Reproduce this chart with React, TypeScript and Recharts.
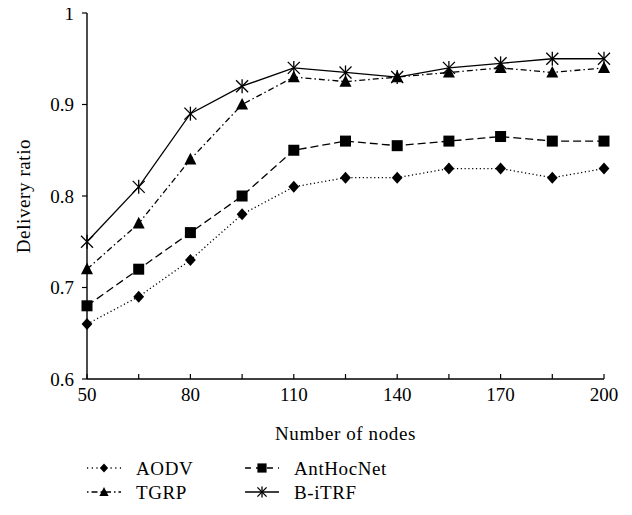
import React from 'react';
import { LineChart, Line, XAxis, YAxis } from 'recharts';

const nodes = [50, 65, 80, 95, 110, 125, 140, 155, 170, 185, 200];
const aodv = [0.66, 0.69, 0.73, 0.78, 0.81, 0.82, 0.82, 0.83, 0.83, 0.82, 0.83];
const tgrp = [0.72, 0.77, 0.84, 0.9, 0.93, 0.925, 0.93, 0.935, 0.94, 0.935, 0.94];
const antHocNet = [0.68, 0.72, 0.76, 0.8, 0.85, 0.86, 0.855, 0.86, 0.865, 0.86, 0.86];
const biTRF = [0.75, 0.81, 0.89, 0.92, 0.94, 0.935, 0.93, 0.94, 0.945, 0.95, 0.95];
const xTicks = [50, 65, 80, 95, 110, 125, 140, 155, 170, 185, 200];
const xLabeled = [50, 80, 110, 140, 170, 200];
const yTicks = [0.6, 0.7, 0.8, 0.9, 1];

const data = nodes.map((n, i) => ({
  n,
  aodv: aodv[i],
  tgrp: tgrp[i],
  ant: antHocNet[i],
  bi: biTRF[i],
}));

const FONT = '"Liberation Serif", "Times New Roman", serif';
const FS = 19;

const Diamond = ({ cx, cy, r = 6 }: any) =>
  cx == null ? null : (
    <path d={`M${cx},${cy - r} L${cx + r * 0.9},${cy} L${cx},${cy + r} L${cx - r * 0.9},${cy} Z`} fill="#000" />
  );
const Square = ({ cx, cy, r = 5.5 }: any) =>
  cx == null ? null : <rect x={cx - r} y={cy - r} width={2 * r} height={2 * r} fill="#000" />;
const Triangle = ({ cx, cy, r = 6 }: any) =>
  cx == null ? null : (
    <path d={`M${cx},${cy - r * 1.1} L${cx + r},${cy + r * 0.85} L${cx - r},${cy + r * 0.85} Z`} fill="#000" />
  );
const Star = ({ cx, cy, r = 6 }: any) =>
  cx == null ? null : (
    <g stroke="#000" strokeWidth={1.3}>
      <line x1={cx - r} y1={cy - r} x2={cx + r} y2={cy + r} />
      <line x1={cx - r} y1={cy + r} x2={cx + r} y2={cy - r} />
      <line x1={cx} y1={cy - r - 1} x2={cx} y2={cy + r + 1} />
    </g>
  );

const series = [
  { key: 'aodv', name: 'AODV', dash: '1.2 2.6', legendDash: '1.2 3.5', Dot: Diamond },
  { key: 'tgrp', name: 'TGRP', dash: '6 3 1.5 3', legendDash: '1.5 3 6 3', Dot: Triangle },
  { key: 'ant', name: 'AntHocNet', dash: '8 4', legendDash: '6 5', Dot: Square },
  { key: 'bi', name: 'B-iTRF', dash: undefined as any, legendDash: undefined as any, Dot: Star },
];

const legendLayout = [
  { s: 0, x: 87, y: 468 },
  { s: 2, x: 245, y: 468 },
  { s: 1, x: 87, y: 492 },
  { s: 3, x: 245, y: 492 },
];

const Legend2 = () => (
  <svg width={632} height={515} style={{ position: 'absolute', left: 0, top: 0, pointerEvents: 'none' }}>
    {legendLayout.map(({ s, x, y }) => {
      const ser = series[s];
      const D = ser.Dot;
      return (
        <g key={ser.key}>
          <line
            x1={x}
            y1={y}
            x2={x + 34}
            y2={y}
            stroke="#000"
            strokeWidth={1.3}
            strokeDasharray={ser.legendDash}
          />
          <D cx={x + 17} cy={y} r={4.6} />
          <text
            x={x + 49}
            y={y}
            dominantBaseline="central"
            fontFamily={FONT}
            fontSize={FS}
            letterSpacing={0.6}
            fill="#000"
          >
            {ser.name}
          </text>
        </g>
      );
    })}
  </svg>
);

const YLabel = ({ viewBox }: any) => {
  const cy = viewBox.y + viewBox.height / 2;
  const x = 23;
  return (
    <text
      x={x}
      y={cy}
      transform={`rotate(-90, ${x}, ${cy})`}
      textAnchor="middle"
      dominantBaseline="central"
      fontFamily={FONT}
      fontSize={FS}
      letterSpacing={0.6}
      fill="#000"
    >
      Delivery ratio
    </text>
  );
};

const XLabel = ({ viewBox }: any) => {
  const cx = viewBox.x + viewBox.width / 2;
  const y = viewBox.y + 54;
  return (
    <text
      x={cx}
      y={y}
      textAnchor="middle"
      dominantBaseline="central"
      fontFamily={FONT}
      fontSize={FS}
      letterSpacing={0.6}
      fill="#000"
    >
      Number of nodes
    </text>
  );
};

export default function App() {
  return (
    <div style={{ width: 632, height: 515, position: 'relative', margin: -8 }}>
      <LineChart width={632} height={515} data={data} margin={{ top: 13, right: 28, left: 0, bottom: 76 }}>
        <XAxis
          dataKey="n"
          type="number"
          domain={[50, 200]}
          ticks={xTicks}
          tickFormatter={(v: number) => (xLabeled.includes(v) ? String(v) : '')}
          tickSize={-5}
          tickMargin={14}
          height={60}
          stroke="#000"
          tick={{ fill: '#000', fontFamily: FONT, fontSize: FS }}
          axisLine={{ stroke: '#000', strokeWidth: 1.4 }}
          tickLine={{ stroke: '#000', strokeWidth: 1.2 }}
          label={<XLabel />}
          interval={0}
        />
        <XAxis
          xAxisId="top"
          orientation="top"
          dataKey="n"
          type="number"
          domain={[50, 200]}
          height={0}
          tick={false}
          tickLine={false}
          axisLine={{ stroke: '#000', strokeWidth: 1.3 }}
        />
        <YAxis
          type="number"
          domain={[0.6, 1]}
          ticks={yTicks}
          tickFormatter={(v: number) => (v === 1 ? '1' : v.toFixed(1))}
          width={87}
          tickSize={5}
          tickMargin={8}
          tick={{ fill: '#000', fontFamily: FONT, fontSize: FS }}
          axisLine={{ stroke: '#000', strokeWidth: 1.4 }}
          tickLine={{ stroke: '#000', strokeWidth: 1.2 }}
          label={<YLabel />}
          interval={0}
        />
        <YAxis
          yAxisId="right"
          orientation="right"
          type="number"
          domain={[0.6, 1]}
          width={0}
          tick={false}
          tickLine={false}
          axisLine={{ stroke: '#000', strokeWidth: 1.3 }}
        />
        {series.map((s) => (
          <Line
            key={s.key}
            dataKey={s.key}
            name={s.name}
            stroke="#000"
            strokeWidth={1.3}
            strokeDasharray={s.dash}
            dot={(p: any) => <s.Dot key={`${s.key}-${p.index}`} cx={p.cx} cy={p.cy} />}
            activeDot={false}
            isAnimationActive={false}
          />
        ))}
      </LineChart>
      <Legend2 />
    </div>
  );
}
